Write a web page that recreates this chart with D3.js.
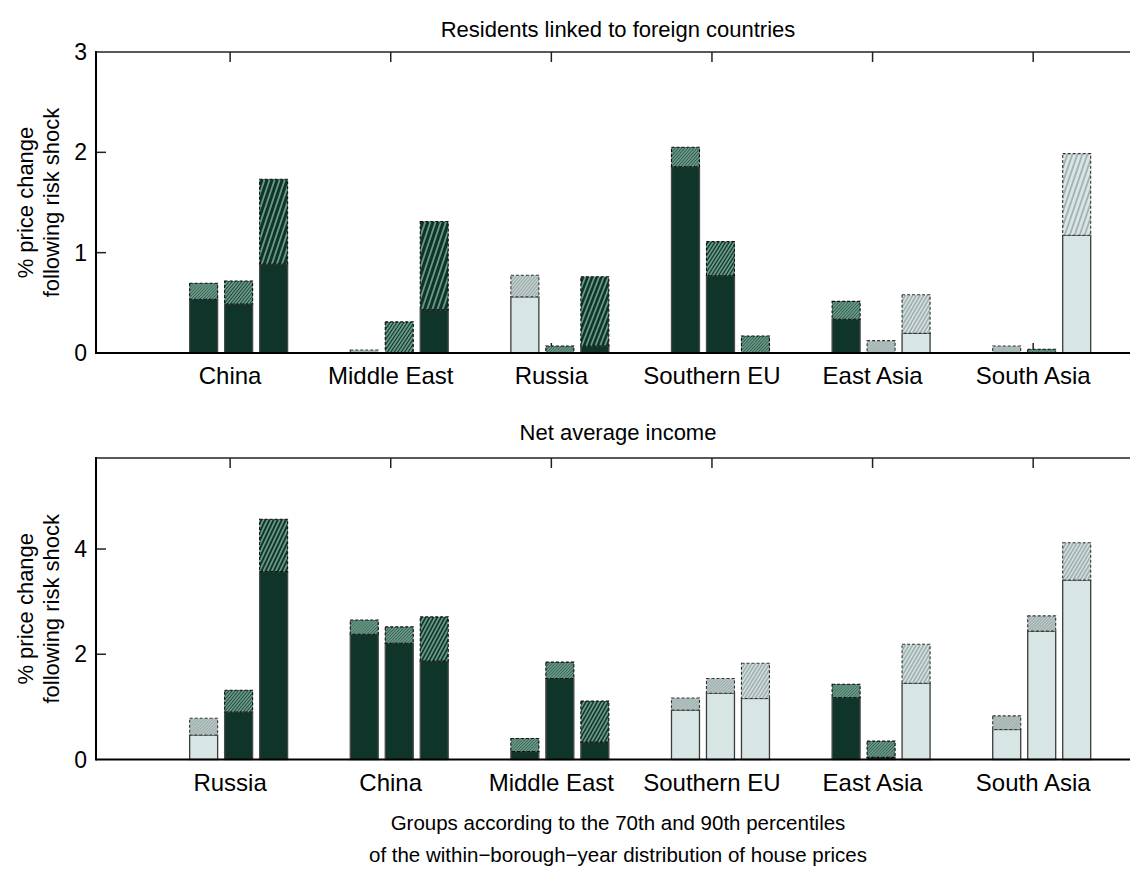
<!DOCTYPE html>
<html>
<head>
<meta charset="utf-8">
<script src="https://cdn.jsdelivr.net/npm/d3@7"></script>
<style>
  html, body { margin: 0; padding: 0; background: #fff; }
  svg { display: block; }
  text { font-family: "Liberation Sans", Arial, Helvetica, sans-serif; fill: #000; }
</style>
</head>
<body>
<svg id="chart" width="1130" height="894"></svg>
<script>
// ---- data -------------------------------------------------------------
// Three bars per origin group (price groups split at the 70th / 90th percentile).
// "base" = solid lower segment, "total" = top of hatched segment.
// shade: "D" = dark bar, "L" = light bar.
const topTitle = "Residents linked to foreign countries";
const topGroups = ["China", "Middle East", "Russia", "Southern EU", "East Asia", "South Asia"];
const topBase = [
  [0.535, 0.489, 0.887],
  [0.0, 0.0, 0.43],
  [0.56, 0.0, 0.07],
  [1.857, 0.77, 0.0],
  [0.336, 0.0, 0.196],
  [0.0, 0.0, 1.173]
];
const topTotal = [
  [0.695, 0.718, 1.732],
  [0.03, 0.31, 1.31],
  [0.775, 0.07, 0.76],
  [2.05, 1.11, 0.17],
  [0.515, 0.123, 0.58],
  [0.07, 0.037, 1.987]
];
const topShade = [
  ["D", "D", "D"],
  ["L", "D", "D"],
  ["L", "D", "D"],
  ["D", "D", "D"],
  ["D", "L", "L"],
  ["L", "D", "L"]
];
const topYTicks = [0, 1, 2, 3];

const bottomTitle = "Net average income";
const bottomGroups = ["Russia", "China", "Middle East", "Southern EU", "East Asia", "South Asia"];
const bottomBase = [
  [0.466, 0.903, 3.57],
  [2.38, 2.21, 1.87],
  [0.15, 1.54, 0.33],
  [0.94, 1.26, 1.16],
  [1.175, 0.04, 1.45],
  [0.57, 2.44, 3.41]
];
const bottomTotal = [
  [0.783, 1.316, 4.567],
  [2.65, 2.52, 2.71],
  [0.40, 1.85, 1.11],
  [1.17, 1.54, 1.83],
  [1.43, 0.35, 2.19],
  [0.83, 2.73, 4.12]
];
const bottomShade = [
  ["L", "D", "D"],
  ["D", "D", "D"],
  ["D", "D", "D"],
  ["L", "L", "L"],
  ["D", "D", "L"],
  ["L", "L", "L"]
];
const bottomYTicks = [0, 2, 4];

const yLabelLines = ["% price change", "following risk shock"];
const xLabelLines = [
  "Groups according to the 70th and 90th percentiles",
  "of the within\u2212borough\u2212year distribution of house prices"
];

// ---- styling ------------------------------------------------------------
const colors = {
  D: { fill: "#0f3429", stripe: "#6a9987", edge: "#4a4a4a", dash: "#111" },
  L: { fill: "#d7e5e4", stripe: "#a3b3b1", edge: "#3c3c3c", dash: "#333" }
};

const svg = d3.select("#chart");
const defs = svg.append("defs");
let clipId = 0;

const left = 96, right = 1140;
const x = d3.scaleLinear().domain([0.165, 6.665]).range([left, right]);

function drawPanel(cfg) {
  const g = svg.append("g");
  const y = d3.scaleLinear().domain([0, cfg.ymax]).range([cfg.y0, cfg.y1]);
  const groupIdx = d3.range(cfg.groups.length);

  // x ticks at group centres (top edge pointing down, bottom edge pointing up)
  const tickG = g.append("g").attr("stroke", "#222").attr("stroke-width", 1.5);
  groupIdx.forEach(i => {
    const cx = x(i + 1);
    tickG.append("line").attr("x1", cx).attr("x2", cx).attr("y1", cfg.y1).attr("y2", cfg.y1 + 10);
    tickG.append("line").attr("x1", cx).attr("x2", cx).attr("y1", cfg.y0).attr("y2", cfg.y0 - 10);
  });
  // y ticks on both sides
  cfg.yTicks.forEach(t => {
    if (t === 0 || t === cfg.ymax) return;
    tickG.append("line").attr("x1", left).attr("x2", left + 10).attr("y1", y(t)).attr("y2", y(t));
    tickG.append("line").attr("x1", right - 10).attr("x2", right).attr("y1", y(t)).attr("y2", y(t));
  });

  // bars
  groupIdx.forEach(i => {
    const inner = d3.scaleBand().domain([0, 1, 2])
      .range([x(i + 1 - 0.252), x(i + 1 + 0.358)]).paddingInner(0.2);
    [0, 1, 2].forEach(j => {
      const c = colors[cfg.shade[i][j]];
      const bx = inner(j), bw = inner.bandwidth();
      const base = cfg.base[i][j], total = cfg.total[i][j];
      // solid segment
      if (base > 0) {
        g.append("rect")
          .attr("x", bx).attr("y", y(base))
          .attr("width", bw).attr("height", y(0) - y(base))
          .attr("fill", c.fill).attr("stroke", c.edge).attr("stroke-width", 1.3);
      }
      // hatched segment
      const hy = y(total), hh = y(base) - y(total);
      if (hh <= 0) return;
      const id = "clip" + (clipId++);
      defs.append("clipPath").attr("id", id)
        .append("rect").attr("x", bx).attr("y", hy).attr("width", bw).attr("height", hh);
      const hg = g.append("g");
      hg.append("rect").attr("x", bx).attr("y", hy).attr("width", bw).attr("height", hh)
        .attr("fill", c.fill);
      const slope = Math.max(1, Math.min(3, 0.6 + hh / 35));
      const step = Math.max(2.9, Math.min(5.4, 2.5 + hh / 33));
      const run = hh / slope;
      const lines = hg.append("g").attr("clip-path", `url(#${id})`)
        .attr("stroke", c.stripe).attr("stroke-width", 1.8);
      for (let o = -run - step; o < bw + step; o += step) {
        lines.append("line")
          .attr("x1", bx + o).attr("y1", hy + hh)
          .attr("x2", bx + o + run).attr("y2", hy);
      }
      hg.append("rect").attr("x", bx).attr("y", hy).attr("width", bw).attr("height", hh)
        .attr("fill", "none").attr("stroke", c.dash).attr("stroke-width", 1.1)
        .attr("stroke-dasharray", "3,2");
    });
  });

  // axes frame: left and bottom heavier, top lighter (right edge lies outside the view)
  g.append("line").attr("x1", left).attr("x2", right).attr("y1", cfg.y1).attr("y2", cfg.y1)
    .attr("stroke", "#222").attr("stroke-width", 1.6);
  g.append("line").attr("x1", left).attr("x2", right).attr("y1", cfg.y0).attr("y2", cfg.y0)
    .attr("stroke", "#000").attr("stroke-width", 2);
  g.append("line").attr("x1", left).attr("x2", left).attr("y1", cfg.y1 - 1).attr("y2", cfg.y0 + 1)
    .attr("stroke", "#000").attr("stroke-width", 2);
  g.append("line").attr("x1", right).attr("x2", right).attr("y1", cfg.y1).attr("y2", cfg.y0)
    .attr("stroke", "#000").attr("stroke-width", 2);

  // tick labels
  cfg.yTicks.forEach(t => {
    g.append("text").attr("x", left - 9).attr("y", y(t)).attr("dy", "0.35em")
      .attr("text-anchor", "end").attr("font-size", 23).text(t);
  });
  groupIdx.forEach(i => {
    g.append("text").attr("x", x(i + 1)).attr("y", cfg.y0 + 31)
      .attr("text-anchor", "middle").attr("font-size", 24).text(cfg.groups[i]);
  });

  // title
  g.append("text").attr("x", (left + right) / 2).attr("y", cfg.titleY)
    .attr("text-anchor", "middle").attr("font-size", 22).text(cfg.title);

  // y label (two lines)
  const cy = (cfg.y0 + cfg.y1) / 2;
  yLabelLines.forEach((s, k) => {
    g.append("text")
      .attr("transform", `translate(${k === 0 ? 33 : 59},${cy}) rotate(-90)`)
      .attr("text-anchor", "middle").attr("font-size", 22).text(s);
  });
}

drawPanel({
  title: topTitle, titleY: 37, groups: topGroups, base: topBase, total: topTotal,
  shade: topShade, yTicks: topYTicks, ymax: 3, y0: 353, y1: 52
});
drawPanel({
  title: bottomTitle, titleY: 440, groups: bottomGroups, base: bottomBase, total: bottomTotal,
  shade: bottomShade, yTicks: bottomYTicks, ymax: 5.73, y0: 759.5, y1: 458
});

// shared x label
xLabelLines.forEach((s, k) => {
  svg.append("text").attr("x", (left + right) / 2).attr("y", 830 + k * 32)
    .attr("text-anchor", "middle").attr("font-size", 20.5).text(s);
});
</script>
</body>
</html>
